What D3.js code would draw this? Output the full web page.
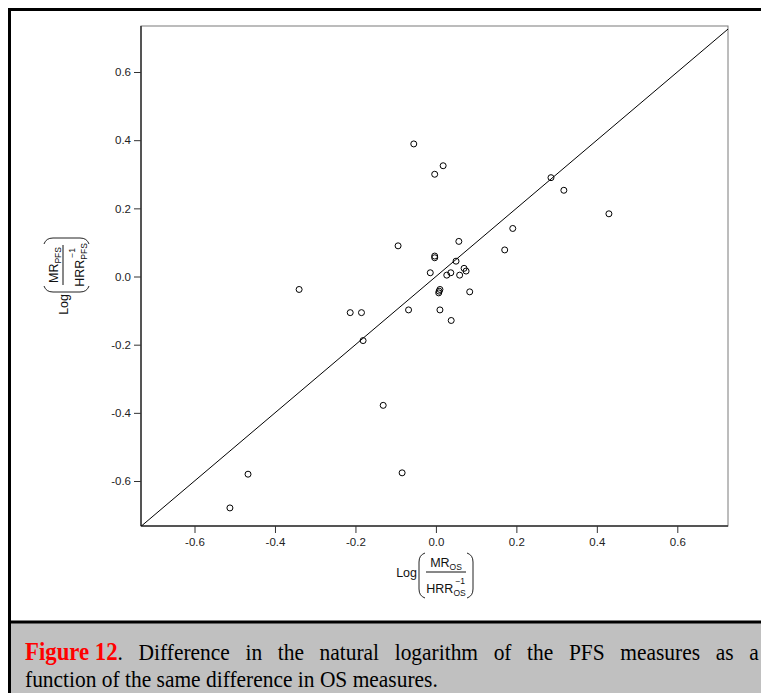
<!DOCTYPE html>
<html>
<head>
<meta charset="utf-8">
<script src="https://cdn.jsdelivr.net/npm/d3@7"></script>
<style>
  html, body { margin: 0; padding: 0; background: #fff; }
  svg { display: block; }
</style>
</head>
<body>
<svg id="chart" width="761" height="693"></svg>
<script>
// ---- data ----
const osDiff  = [-0.055, 0.018, -0.003, 0.286, 0.318, 0.430, 0.191, 0.171, 0.057, -0.094,
                 -0.003, -0.003, 0.050, -0.014, 0.037, 0.027, 0.059, 0.070, 0.075, 0.084,
                 0.010, 0.008, 0.007, -0.068, 0.010, 0.038, -0.213, -0.185, -0.340, -0.181,
                 -0.131, -0.084, -0.467, -0.512];
const pfsDiff = [0.389, 0.325, 0.300, 0.290, 0.253, 0.184, 0.141, 0.078, 0.103, 0.090,
                 0.060, 0.055, 0.045, 0.011, 0.011, 0.004, 0.004, 0.024, 0.016, -0.045,
                 -0.038, -0.043, -0.048, -0.098, -0.098, -0.129, -0.106, -0.106, -0.038, -0.188,
                 -0.378, -0.576, -0.580, -0.679];
const xTicks = [-0.6, -0.4, -0.2, 0.0, 0.2, 0.4, 0.6];
const yTicks = [-0.6, -0.4, -0.2, 0.0, 0.2, 0.4, 0.6];
const xDomain = [-0.733, 0.726];
const yDomain = [-0.732, 0.735];
const refLine = [-0.74, 0.74];
const captionBold = "Figure 12";
const captionLine1 = ". Difference in the natural logarithm of the PFS measures as a";
const captionLine2 = "function of the same difference in OS measures.";

// ---- layout ----
const box = {left: 141, right: 728, top: 26, bottom: 526};
const svg = d3.select("#chart");

const x = d3.scaleLinear().domain(xDomain).range([box.left, box.right]);
const y = d3.scaleLinear().domain(yDomain).range([box.bottom, box.top]);

// background + caption panel + frame
svg.append("rect").attr("width", 761).attr("height", 693).attr("fill", "#fff");
svg.append("rect").attr("x", 9.5).attr("y", 622).attr("width", 760).attr("height", 80).attr("fill", "#c0c0c0");
svg.append("rect").attr("x", 9.5).attr("y", 9.5).attr("width", 800).attr("height", 800)
  .attr("fill", "none").attr("stroke", "#000").attr("stroke-width", 3);
svg.append("line").attr("x1", 9.5).attr("x2", 761).attr("y1", 622).attr("y2", 622)
  .attr("stroke", "#000").attr("stroke-width", 3);

// plot box
svg.append("rect").attr("x", box.left).attr("y", box.top)
  .attr("width", box.right - box.left).attr("height", box.bottom - box.top)
  .attr("fill", "none").attr("stroke", "#7a7a7a").attr("stroke-width", 1);

svg.append("clipPath").attr("id", "plotclip").append("rect")
  .attr("x", box.left).attr("y", box.top)
  .attr("width", box.right - box.left).attr("height", box.bottom - box.top);

// axes
const fontAxis = "'Liberation Sans', Arial, sans-serif";
const xAxis = svg.append("g").attr("transform", `translate(0,${box.bottom})`)
  .call(d3.axisBottom(x).tickValues(xTicks).tickFormat(d3.format(".1f")).tickSizeOuter(0).tickSize(7).tickPadding(5));
const yAxis = svg.append("g").attr("transform", `translate(${box.left},0)`)
  .call(d3.axisLeft(y).tickValues(yTicks).tickFormat(d3.format(".1f")).tickSizeOuter(0).tickSize(7).tickPadding(3));
[xAxis, yAxis].forEach(g => {
  g.select(".domain").remove();
  g.selectAll(".tick line").attr("stroke", "#333").attr("stroke-width", 1);
  g.selectAll(".tick text").attr("fill", "#222").attr("font-family", fontAxis).attr("font-size", 11.5)
    .text(d => d3.format(".1f")(d).replace("−", "-"));
});
// dark axis lines
svg.append("line").attr("x1", box.left).attr("x2", box.left)
  .attr("y1", box.top).attr("y2", box.bottom).attr("stroke", "#333").attr("stroke-width", 1.5);
svg.append("line").attr("x1", box.left).attr("x2", box.right)
  .attr("y1", box.bottom).attr("y2", box.bottom).attr("stroke", "#333").attr("stroke-width", 1.5);

// reference line y = x
svg.append("line").attr("clip-path", "url(#plotclip)")
  .attr("x1", x(refLine[0])).attr("y1", y(refLine[0]))
  .attr("x2", x(refLine[1])).attr("y2", y(refLine[1]))
  .attr("stroke", "#000").attr("stroke-width", 1);

// points
const pts = osDiff.map((v, i) => ({x: v, y: pfsDiff[i]}));
svg.append("g").selectAll("circle").data(pts).join("circle")
  .attr("cx", d => x(d.x)).attr("cy", d => y(d.y)).attr("r", 3)
  .attr("fill", "none").attr("stroke", "#000").attr("stroke-width", 1);

// axis titles: Log( MR_sub / HRR_sub^-1 )
function logFraction(g, sub) {
  g.append("text").attr("x", -29).attr("y", 5).attr("text-anchor", "end")
    .attr("font-family", fontAxis).attr("font-size", 12.5).attr("fill", "#111").text("Log");
  const lp = "M -21,-19 Q -27,-17 -27,-10 L -27,17 Q -27,24 -21,26";
  const rp = "M 21,-19 Q 27,-17 27,-10 L 27,17 Q 27,24 21,26";
  g.append("path").attr("d", lp).attr("fill", "none").attr("stroke", "#222").attr("stroke-width", 1);
  g.append("path").attr("d", rp).attr("fill", "none").attr("stroke", "#222").attr("stroke-width", 1);
  g.append("line").attr("x1", -20).attr("x2", 20).attr("y1", 0).attr("y2", 0)
    .attr("stroke", "#111").attr("stroke-width", 1);
  const num = g.append("text").attr("x", 0).attr("y", -5).attr("text-anchor", "middle")
    .attr("font-family", fontAxis).attr("font-size", 12.5).attr("fill", "#111");
  num.append("tspan").text("MR");
  num.append("tspan").attr("font-size", 8.5).attr("dy", 2.5).text(sub);
  const den = g.append("text").attr("x", 0).attr("y", 21).attr("text-anchor", "middle")
    .attr("font-family", fontAxis).attr("font-size", 12.5).attr("fill", "#111");
  den.append("tspan").text("HRR");
  den.append("tspan").attr("font-size", 8.5).attr("dy", 2.5).text(sub);
  const fullW = den.node().getComputedTextLength();
  const hrrW = den.select("tspan").node().getComputedTextLength();
  g.append("text").attr("x", -fullW / 2 + hrrW + 2).attr("y", 12)
    .attr("font-family", fontAxis).attr("font-size", 8.5).attr("fill", "#111").text("\u22121");
}
logFraction(svg.append("g").attr("transform", "translate(446,572)"), "OS");
logFraction(svg.append("g").attr("transform", "translate(63,265) rotate(-90)"), "PFS");

// caption
const serif = "'Liberation Serif', 'Times New Roman', serif";
const t2 = svg.append("text").attr("font-family", serif).attr("font-size", 24).attr("fill", "#000")
  .text(captionLine2);
const w2 = t2.node().getComputedTextLength();
const sx = 413 / w2;
t2.attr("transform", `translate(25,687) scale(${sx},1)`);

const t1 = svg.append("text").attr("font-family", serif).attr("font-size", 24).attr("fill", "#000");
const boldSpan = t1.append("tspan").attr("font-weight", "bold").attr("fill", "#ff0000")
  .attr("font-size", 25.5).attr("word-spacing", 0).text(captionBold);
const restSpan = t1.append("tspan").text(captionLine1);
const w1 = t1.node().getComputedTextLength();
const nSpaces = captionLine1.split(" ").length - 1;
const target = 734 / sx;
restSpan.attr("word-spacing", (target - w1) / nSpaces);
t1.attr("transform", `translate(25,660) scale(${sx},1)`);
</script>
</body>
</html>
